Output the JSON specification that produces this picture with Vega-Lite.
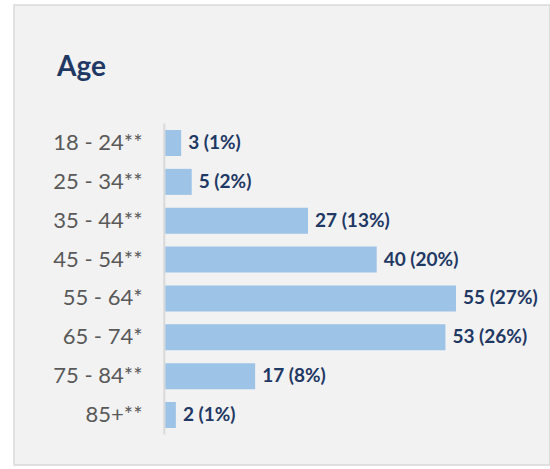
{
  "$schema": "https://vega.github.io/schema/vega-lite/v6.json",
  "width": 536,
  "height": 460,
  "autosize": {"type": "none"},
  "padding": {"left": 14, "top": 5, "right": 0, "bottom": 4},
  "background": "#ffffff",
  "title": {
    "text": "Age",
    "orient": "top",
    "anchor": "start",
    "frame": "group",
    "offset": -99,
    "baseline": "alphabetic",
    "dx": 43,
    "font": "Lato",
    "fontSize": 28,
    "fontWeight": "bold",
    "color": "#1f3864"
  },
  "config": {
    "view": {"fill": "#f2f2f2", "stroke": "#d9d9d9", "strokeWidth": 1.5}
  },
  "data": {
    "values": [
      {"age": "18 - 24**", "n": 3, "label": "3 (1%)"},
      {"age": "25 - 34**", "n": 5, "label": "5 (2%)"},
      {"age": "35 - 44**", "n": 27, "label": "27 (13%)"},
      {"age": "45 - 54**", "n": 40, "label": "40 (20%)"},
      {"age": "55 - 64*", "n": 55, "label": "55 (27%)"},
      {"age": "65 - 74*", "n": 53, "label": "53 (26%)"},
      {"age": "75 - 84**", "n": 17, "label": "17 (8%)"},
      {"age": "85+**", "n": 2, "label": "2 (1%)"}
    ]
  },
  "encoding": {
    "y": {
      "field": "age",
      "type": "nominal",
      "sort": null,
      "scale": {"paddingInner": 0.331, "paddingOuter": 0, "range": [125, 423]},
      "axis": {
        "title": null,
        "orient": "left",
        "offset": -130,
        "domain": false,
        "ticks": false,
        "grid": false,
        "labelPadding": 2,
        "labelFont": "Lato",
        "labelFontSize": 22,
        "labelColor": "#595959",
        "labelAlign": "right",
        "labelBaseline": "middle"
      }
    }
  },
  "layer": [
    {
      "mark": {"type": "bar", "color": "#d9d9d9", "height": {"band": 1.495}},
      "encoding": {
        "x": {"datum": 0, "type": "quantitative", "scale": {"domain": [-28.63, 72.79], "nice": false, "zero": false}, "axis": null},
        "x2": {"datum": -0.38}
      }
    },
    {
      "mark": {"type": "bar", "color": "#9dc3e6"},
      "encoding": {
        "x": {"field": "n", "type": "quantitative", "scale": {"domain": [-28.63, 72.79], "nice": false, "zero": false}, "axis": null}
      }
    },
    {
      "mark": {"type": "text", "align": "left", "baseline": "middle", "dx": 7, "font": "Lato", "fontSize": 19, "fontWeight": "bold", "color": "#1f3864"},
      "encoding": {
        "x": {"field": "n", "type": "quantitative"},
        "text": {"field": "label"}
      }
    }
  ]
}
